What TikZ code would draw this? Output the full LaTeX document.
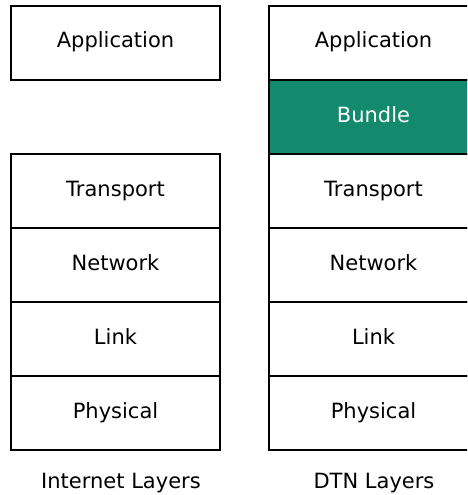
\documentclass[tikz,border=0pt]{standalone}
\usepackage{fontspec}
\setmainfont{DejaVu Sans}
\definecolor{bundlegreen}{RGB}{19,138,110}
\begin{document}
\begin{tikzpicture}[x=1pt,y=-1pt,
  layerbox/.style={draw=black, line width=2pt, minimum width=209pt, minimum height=74pt,
    inner sep=0pt, text height=15pt, text depth=5pt, font=\fontsize{21}{24}\selectfont, anchor=north west},
  caption/.style={font=\fontsize{21}{24}\selectfont, anchor=base, inner sep=0pt}]
\useasboundingbox (0,0) rectangle (467,495);
\clip (0,0) rectangle (467,495);
% Internet stack
\node[layerbox] (iapp)  at (10,5)   {Application};
\node[layerbox] (itra)  at (10,153) {Transport};
\node[layerbox] (inet)  at (10,227) {Network};
\node[layerbox] (ilink) at (10,301) {Link};
\node[layerbox] (iphy)  at (10,375) {Physical};
% DTN stack
\node[layerbox] (dapp)  at (268,5)   {Application};
\node[layerbox, fill=bundlegreen, text=white] (dbun) at (268,79) {Bundle};
\node[layerbox] (dtra)  at (268,153) {Transport};
\node[layerbox] (dnet)  at (268,227) {Network};
\node[layerbox] (dlink) at (268,301) {Link};
\node[layerbox] (dphy)  at (268,375) {Physical};
% captions
\node[caption] (icap) at (121,488) {Internet Layers};
\node[caption] (dcap) at (374,488) {DTN Layers};
\end{tikzpicture}
\end{document}
